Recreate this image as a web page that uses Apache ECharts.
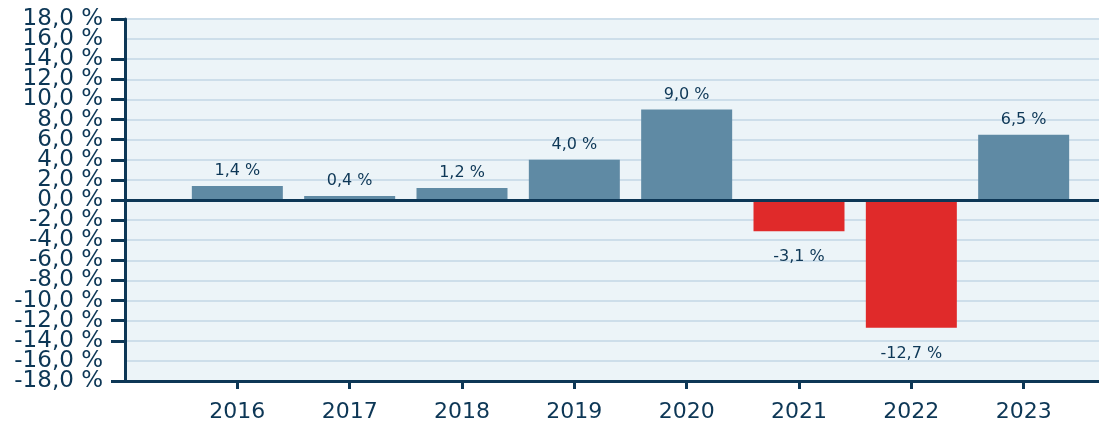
<!DOCTYPE html>
<html>
<head>
<meta charset="utf-8">
<script src="https://cdn.jsdelivr.net/npm/echarts@6/dist/echarts.min.js"></script>
<style>
  html, body { margin: 0; padding: 0; background: #fff; overflow: hidden; }
  /* Diagramm läuft rechts über den Rand hinaus wie im Original */
  #chart { width: 1139px; height: 430px; }
</style>
</head>
<body>
<div id="chart"></div>
<script>
// Jahre und Veränderung in %
var years = ['2016', '2017', '2018', '2019', '2020', '2021', '2022', '2023']
var values = [1.4, 0.4, 1.2, 4.0, 9.0, -3.1, -12.7, 6.5]
var yMin = -18
var yMax = 18
var yStep = 2

var navy = '#0d3756'
var fontName = 'DejaVu Sans'

function fmt (v) {
  return v.toFixed(1).replace('.', ',') + ' %'
}

// leere Kategorie vorne und hinten, damit die Achse links am Rand beginnt
var cats = [''].concat(years, [''])
var barData = [null]
values.forEach(function (v) {
  barData.push({
    value: v,
    itemStyle: { color: v < 0 ? '#e02a2a' : '#5f8aa4' },
    label: v < 0 ? { position: 'bottom', distance: 18 } : { position: 'top', distance: 7 }
  })
})
barData.push(null)

var yLabel = {
  color: navy,
  fontFamily: fontName,
  fontSize: 23,
  margin: 22
}

var myChart = echarts.init(document.getElementById('chart'))
var option = {
  animation: false,
  grid: {
    left: 125,
    top: 19,
    bottom: 49,
    right: 0,
    show: true,
    backgroundColor: '#ecf4f8',
    borderWidth: 0
  },
  xAxis: {
    type: 'category',
    data: cats,
    boundaryGap: false,
    axisLine: { onZero: false, lineStyle: { color: navy, width: 3 } },
    axisTick: {
      length: 8,
      lineStyle: { color: navy, width: 3 },
      interval: function (index) { return index > 0 && index < cats.length - 1 }
    },
    axisLabel: {
      color: navy,
      fontFamily: fontName,
      fontSize: 22,
      margin: 20,
      interval: 0
    },
    splitLine: { show: false }
  },
  yAxis: [
    {
      type: 'value',
      min: yMin,
      max: yMax,
      interval: yStep,
      axisLine: { show: true, lineStyle: { color: navy, width: 3 } },
      axisTick: { show: true, length: 14, lineStyle: { color: navy, width: 3 } },
      axisLabel: Object.assign({ showMinLabel: true, showMaxLabel: true, formatter: fmt }, yLabel),
      splitLine: { lineStyle: { color: '#cddeea', width: 2 } }
    },
    {
      // zweite Achse nur für die Beschriftungen neben min/max, die sonst ausgeblendet werden
      type: 'value',
      position: 'left',
      min: yMin,
      max: yMax,
      interval: yStep,
      axisLine: { show: false },
      axisTick: { show: false },
      splitLine: { show: false },
      axisLabel: Object.assign({
        showMinLabel: false,
        showMaxLabel: false,
        formatter: function (v) {
          return (v === yMax - yStep || v === yMin + yStep) ? fmt(v) : ''
        }
      }, yLabel)
    }
  ],
  series: [
    {
      type: 'bar',
      barWidth: 91,
      data: barData,
      label: {
        show: true,
        color: navy,
        fontFamily: fontName,
        fontSize: 16,
        formatter: function (p) { return fmt(p.value) }
      },
      markLine: {
        silent: true,
        symbol: 'none',
        label: { show: false },
        lineStyle: { color: navy, width: 3, type: 'solid' },
        data: [{ yAxis: 0 }]
      }
    }
  ]
}
myChart.setOption(option, true)
</script>
</body>
</html>
